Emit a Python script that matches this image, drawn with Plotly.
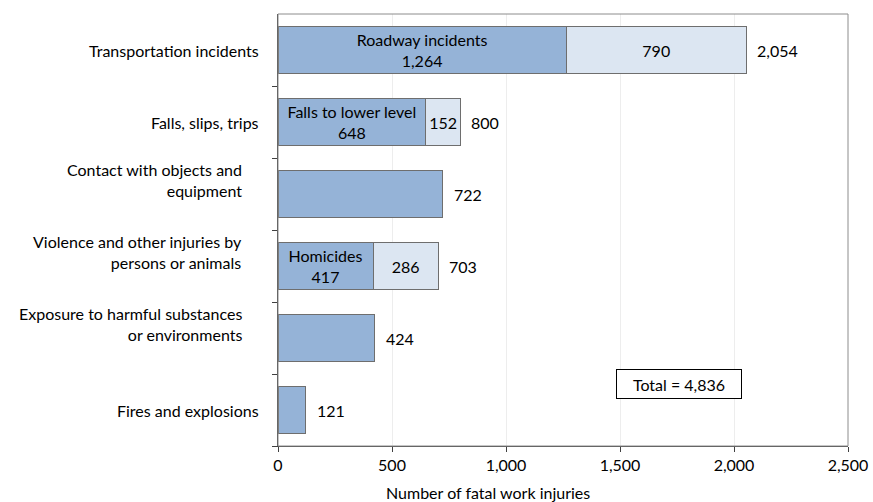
import plotly.graph_objects as go

categories = [
    "Transportation incidents",
    "Falls, slips, trips",
    "Contact with objects and<br>equipment",
    "Violence and other injuries by<br>persons or animals",
    "Exposure to harmful substances<br>or environments",
    "Fires and explosions",
]
sub_names = ["Roadway incidents", "Falls to lower level", "", "Homicides", "", ""]
sub_values = [1264, 648, 722, 417, 424, 121]
other_values = [790, 152, 0, 286, 0, 0]
totals = [2054, 800, 722, 703, 424, 121]
total_label = "Total = 4,836"
x_ticks = [0, 500, 1000, 1500, 2000, 2500]

FONT = "Lato, 'Open Sans', sans-serif"
FS = 16
DARK = "#95B3D7"
LIGHT = "#DCE6F2"
EDGE = "#6E6E6E"

ypos = list(range(len(categories)))

def fmt(v):
    return f"{v:,}"

sub_text = [f"{n}<br>{fmt(v)}" if n else "" for n, v in zip(sub_names, sub_values)]
other_text = [fmt(v) if v else "" for v in other_values]

fig = go.Figure()
fig.add_trace(go.Bar(
    y=ypos, x=sub_values, orientation="h", width=0.64,
    marker=dict(color=DARK, line=dict(color=EDGE, width=1)),
    text=sub_text, textposition="inside", insidetextanchor="middle",
    textfont=dict(family=FONT, size=FS, color="#000000"),
    constraintext="none", hoverinfo="skip", showlegend=False,
))
fig.add_trace(go.Bar(
    y=ypos, x=other_values, orientation="h", width=0.64,
    marker=dict(color=LIGHT, line=dict(color=EDGE, width=1)),
    text=other_text, textposition="inside", insidetextanchor="middle",
    textfont=dict(family=FONT, size=FS, color="#000000"),
    constraintext="none", hoverinfo="skip", showlegend=False,
))

annotations = []
for y, t in zip(ypos, totals):
    annotations.append(dict(
        x=t, y=y, xref="x", yref="y", text=fmt(t), showarrow=False,
        xanchor="left", xshift=9, font=dict(family=FONT, size=FS, color="#000000"),
    ))
for y, c in zip(ypos, categories):
    multi = "<br>" in c
    annotations.append(dict(
        x=0, y=y, xref="paper", yref="y", text=c, showarrow=False,
        xanchor="right", align="right", yanchor="middle",
        xshift=-34 if multi else -17, yshift=14 if multi else 0,
        font=dict(family=FONT, size=FS, color="#000000"),
    ))
annotations.append(dict(
    x=1760, y=4.64, xref="x", yref="y", text=total_label, showarrow=False,
    bordercolor="#000000", borderwidth=1, borderpad=5, bgcolor="#FFFFFF",
    width=114, height=18, font=dict(family=FONT, size=FS, color="#000000"),
))
annotations.append(dict(
    x=0.368, y=0, xref="paper", yref="paper", text="Number of fatal work injuries",
    showarrow=False, yanchor="middle", yshift=-46,
    font=dict(family=FONT, size=FS, color="#000000"),
))

fig.update_layout(
    width=873, height=502,
    margin=dict(l=278, r=25, t=14, b=56, autoexpand=False),
    barmode="stack", bargap=0.36,
    plot_bgcolor="#FFFFFF", paper_bgcolor="#FFFFFF",
    uniformtext=dict(minsize=FS, mode="show"),
    annotations=annotations,
    shapes=[dict(type="rect", xref="paper", yref="paper", x0=0, x1=1, y0=0, y1=1,
                 line=dict(color="#8C8C8C", width=1), layer="above")],
)
fig.update_xaxes(
    range=[0, 2500], tickvals=x_ticks, ticktext=[fmt(v) for v in x_ticks],
    showgrid=True, gridcolor="#EDEDED", gridwidth=1, zeroline=False,
    showline=True, linecolor="#404040", linewidth=1,
    ticks="outside", ticklen=5, tickcolor="#404040", automargin=False,
    tickfont=dict(family=FONT, size=FS, color="#000000"),
)
fig.update_yaxes(
    range=[5.5, -0.5], tickvals=[i + 0.5 for i in ypos], ticktext=[""] * len(ypos),
    showgrid=False, zeroline=False, automargin=False,
    showline=True, linecolor="#404040", linewidth=1,
    ticks="outside", ticklen=5, tickcolor="#404040",
)

fig.write_html("out.html", config={"displayModeBar": False},
               post_script="document.body.style.margin='0';")
